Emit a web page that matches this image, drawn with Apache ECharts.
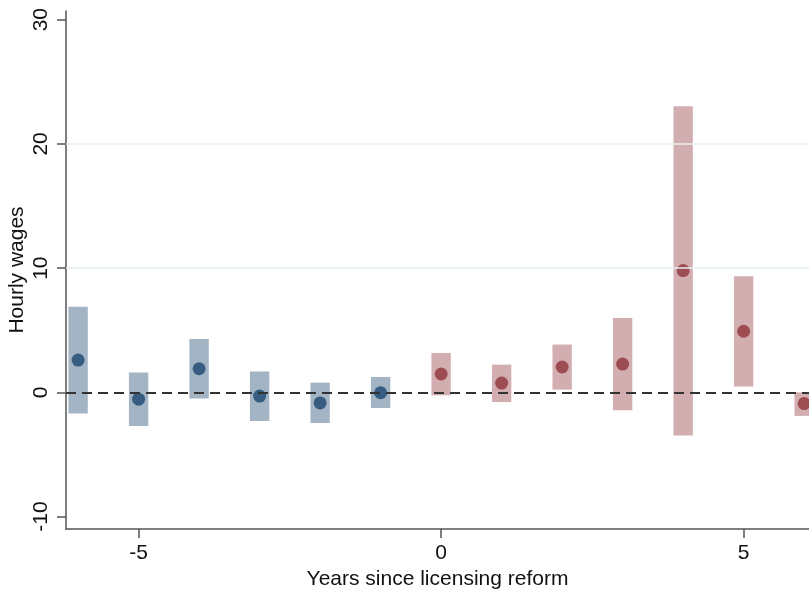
<!DOCTYPE html>
<html>
<head>
<meta charset="utf-8">
<script src="https://cdn.jsdelivr.net/npm/echarts@6/dist/echarts.min.js"></script>
<style>
  html, body { margin: 0; padding: 0; background: #fff; }
  #chart { width: 809px; height: 590px; }
</style>
</head>
<body>
<div id="chart"></div>
<script>
const years = [-6, -5, -4, -3, -2, -1, 0, 1, 2, 3, 4, 5, 6]
const estimate = [2.6, -0.55, 1.9, -0.3, -0.85, -0.03, 1.48, 0.75, 2.04, 2.28, 9.8, 4.92, -0.9]
const ciLow = [-1.7, -2.7, -0.5, -2.3, -2.47, -1.26, -0.24, -0.78, 0.22, -1.45, -3.47, 0.48, -1.9]
const ciHigh = [6.9, 1.6, 4.3, 1.67, 0.78, 1.24, 3.17, 2.23, 3.85, 5.99, 23.04, 9.35, 0.0]
const yTicks = [-10, 0, 10, 20, 30]
const xTicks = [-5, 0, 5]
const gridValues = [10, 20]

const fontFamily = "'Liberation Sans', Arial, sans-serif"
const preColor = "#1a476f"
const postColor = "#90353b"
const preBand = "rgba(26,71,111,0.4)"
const postBand = "rgba(144,53,59,0.4)"

const isPre = (year) => year < 0

const bandData = years.map((year, i) => [year, ciLow[i], ciHigh[i]])
const pointData = years.map((year, i) => ({
  value: [year, estimate[i]],
  itemStyle: { color: isPre(year) ? preColor : postColor },
}))

const chart = echarts.init(document.getElementById("chart"))

const option = {
  animation: false,
  backgroundColor: "#fff",
  grid: { left: 66, right: 0, top: 11, bottom: 61, containLabel: false, outerBoundsMode: "none" },
  xAxis: {
    type: "value",
    min: -6.2,
    max: 6.08,
    name: "Years since licensing reform",
    nameLocation: "middle",
    nameGap: 39,
    nameTextStyle: { fontFamily, fontSize: 21, color: "#111" },
    axisLine: { show: true, onZero: false, lineStyle: { color: "#555", width: 1.5 } },
    axisTick: { show: true, length: 9, customValues: xTicks, lineStyle: { color: "#555", width: 1.5 } },
    axisLabel: { customValues: xTicks, margin: 14, fontFamily, fontSize: 21, color: "#111" },
    splitLine: { show: false },
  },
  yAxis: {
    type: "value",
    min: -11,
    max: 30.7,
    name: "Hourly wages",
    nameLocation: "middle",
    nameGap: 38,
    nameMoveOverlap: false,
    nameTextStyle: { fontFamily, fontSize: 21, color: "#111" },
    axisLine: { show: true, onZero: false, lineStyle: { color: "#555", width: 1.5 } },
    axisTick: { show: true, length: 9, customValues: yTicks, lineStyle: { color: "#555", width: 1.5 } },
    axisLabel: { customValues: yTicks, rotate: 90, margin: 14, fontFamily, fontSize: 21, color: "#111" },
    splitLine: { show: false },
  },
  series: [
    {
      type: "custom",
      name: "ci",
      data: bandData,
      encode: { x: 0, y: [1, 2] },
      renderItem: (params, api) => {
        const year = api.value(0)
        const lo = api.coord([year - 0.16, api.value(1)])
        const hi = api.coord([year + 0.16, api.value(2)])
        return {
          type: "rect",
          shape: { x: lo[0], y: hi[1], width: hi[0] - lo[0], height: lo[1] - hi[1] },
          style: { fill: isPre(year) ? preBand : postBand },
        }
      },
      z: 2,
    },
    {
      type: "scatter",
      name: "estimate",
      data: pointData,
      symbolSize: 13,
      z: 4,
      markLine: {
        silent: true,
        symbol: "none",
        label: { show: false },
        data: [
          ...gridValues.map((v) => ({ yAxis: v, lineStyle: { color: "#e6efef", width: 1.5, type: "solid" } })),
          { yAxis: 0, lineStyle: { color: "#333", width: 2, type: [10, 6] } },
        ],
      },
    },
  ],
}

chart.setOption(option)
</script>
</body>
</html>
